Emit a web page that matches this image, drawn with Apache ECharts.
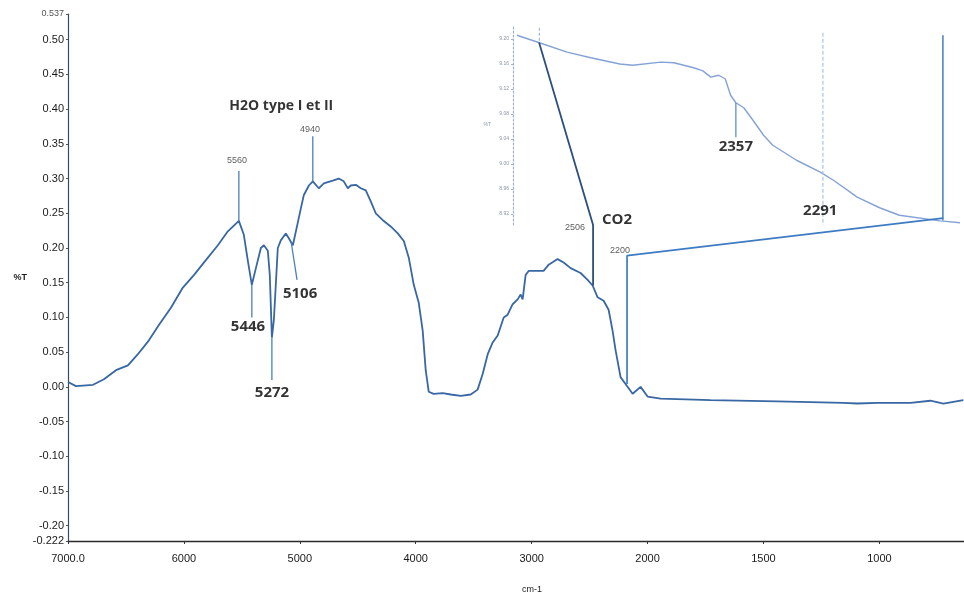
<!DOCTYPE html>
<html><head><meta charset="utf-8">
<script src="https://cdn.jsdelivr.net/npm/echarts@6/dist/echarts.min.js"></script>
<style>html,body{margin:0;padding:0;background:#fff}#c{width:964px;height:599px}</style>
</head><body><div id="c"></div>
<script>
// ---- main spectrum (wavenumber cm-1, %T) ----
const wavenumbers = [7000,6931,6784,6690,6586,6483,6397,6302,6216,6112,
  6009,5914,5828,5707,5621,5526,5483,5448,5414,5379,
  5336,5310,5276,5259,5241,5224,5190,5164,5121,5095,
  5060,5034,4991,4966,4922,4888,4836,4793,4716,4664,
  4621,4586,4560,4517,4474,4431,4388,4345,4284,4216,
  4155,4103,4060,4017,3974,3940,3914,3888,3845,3767,
  3698,3612,3526,3466,3422,3379,3336,3293,3241,3207,
  3164,3121,3095,3078,3052,3026,2948,2897,2853,2776,
  2724,2664,2578,2517,2474,2431,2379,2336,2302,2276,
  2233,2190,2129,2060,2000,1944,1728,1440,1155,1095,
  1009,866,780,724,638];
const transmittance = [0.007,0.001,0.003,0.011,0.024,0.031,0.047,0.067,0.089,0.114,
  0.143,0.161,0.179,0.204,0.224,0.239,0.219,0.181,0.147,0.171,
  0.200,0.204,0.196,0.161,0.071,0.096,0.200,0.211,0.221,0.214,
  0.204,0.224,0.257,0.276,0.290,0.296,0.286,0.293,0.297,0.300,
  0.296,0.286,0.290,0.291,0.286,0.283,0.267,0.250,0.240,0.231,
  0.221,0.210,0.186,0.147,0.121,0.081,0.024,-0.007,-0.010,-0.009,
  -0.011,-0.013,-0.011,-0.004,0.019,0.047,0.064,0.074,0.100,0.104,
  0.119,0.126,0.133,0.126,0.161,0.167,0.167,0.167,0.176,0.184,
  0.179,0.171,0.164,0.154,0.146,0.129,0.124,0.111,0.081,0.053,
  0.014,0.004,-0.010,0.000,-0.014,-0.017,-0.019,-0.021,-0.023,-0.024,
  -0.023,-0.023,-0.020,-0.024,-0.019];

// ---- axis ticks ----
const xTickWavenumbers = [7000,6000,5000,4000,3000,2000,1500,1000];
const xTickLabels = ['7000.0','6000','5000','4000','3000','2000','1500','1000'];
const xEndWavenumber = 635;
const yTickValues = [-0.222,-0.20,-0.15,-0.10,-0.05,0.00,0.05,0.10,0.15,0.20,0.25,0.30,0.35,0.40,0.45,0.50,0.537];
const yTickLabels = ['-0.222','-0.20','-0.15','-0.10','-0.05','0.00','0.05','0.10','0.15','0.20','0.25','0.30','0.35','0.40','0.45','0.50','0.537'];

// ---- peak marker lines (main plot) ----
const markerW = [[5526,5526],[4888,4888],[5414,5414],[5241,5241],[5075,5024]];
const markerV = [[0.239,0.311],[0.296,0.361],[0.147,0.100],[0.071,0.010],[0.209,0.154]];
const co2LinkW = [2470,2470,2936];
const co2LinkV = [0.146,0.233,0.496];
const link2200W = [2177,2177,725];
const link2200V = [0.004,0.189,0.243];

// ---- main text annotations ----
const mainLabelTexts = ['H2O type I et II','5560','4940','5446','5272','5106','CO2','2506','2200'];
const mainLabelW = [5160,5542,4912,5447,5240,4998,2263,2626,2237];
const mainLabelV = [0.405,0.326,0.371,0.086,-0.009,0.134,0.240,0.229,0.196];

// ---- inset (zoom of CO2 region) ----
const insetWavenumbers = [2523,2506,2485,2467,2445,2435,2414,2404,2389,2382,2376,2370,2365,2361,2357,2351,2344,2336,2329,2311,2293,2283,2265,2248,2233,2202,2187];
const insetValues = [9.206,9.194,9.179,9.170,9.160,9.158,9.163,9.162,9.154,9.149,9.139,9.142,9.136,9.110,9.098,9.090,9.070,9.046,9.030,9.006,8.987,8.974,8.947,8.930,8.918,8.909,8.906];
const insetTickValues = [9.20,9.16,9.12,9.08,9.04,9.00,8.96,8.92];
const insetTickLabels = ['9.20','9.16','9.12','9.08','9.04','9.00','8.96','8.92'];
const insetMarkerW = [[2506,2506],[2291,2291],[2200,2200],[2357,2357]];
const insetMarkerV = [[9.218,9.194],[9.210,8.902],[9.206,8.910],[9.098,9.043]];
const insetLabelTexts = ['2357','2291'];
const insetLabelW = [2357,2293];
const insetLabelV = [9.027,8.925];

// piecewise FTIR scale: 1000 cm-1 per unit above 2000, 500 cm-1 per unit below
function toPos(w){ return w >= 2000 ? (7000 - w) / 1000 : 5 + (2000 - w) / 500; }
function pairs(ws, vs, f){ return ws.map((w,i)=>[f ? f(w) : w, vs[i]]); }

const chart = echarts.init(document.getElementById('c'));
const axisFont = 'Liberation Sans, Arial, sans-serif';
const xTickPos = xTickWavenumbers.map(toPos);

const series = [];
series.push({
  type:'line', xAxisIndex:0, yAxisIndex:0, data:pairs(wavenumbers, transmittance, toPos),
  showSymbol:false, symbol:'none', lineStyle:{color:'#3867a3', width:1.8}, z:3, silent:true
});
markerW.forEach((ws,i)=>series.push({
  type:'line', xAxisIndex:0, yAxisIndex:0, data:pairs(ws, markerV[i], toPos),
  symbol:'none', lineStyle:{color:'#4a7fbf', width:1.3}, z:4, silent:true
}));
series.push({type:'line', xAxisIndex:0, yAxisIndex:0, data:pairs(co2LinkW, co2LinkV, toPos),
  symbol:'none', lineStyle:{color:'#2c4f7c', width:1.8}, z:5, silent:true});
series.push({type:'line', xAxisIndex:0, yAxisIndex:0, data:pairs(link2200W, link2200V, toPos),
  symbol:'none', lineStyle:{color:'#3d7bc2', width:1.7}, z:5, silent:true});

const bigLabel = {fontFamily:'Open Sans, sans-serif', fontWeight:'bold', fontSize:15, color:'#000', textBorderWidth:0};
const smallLabel = {fontFamily:'Liberation Sans, Arial, sans-serif', fontSize:9, color:'#333', textBorderWidth:0};
const smallSet = ['5560','4940','2506','2200'];
series.push({
  type:'scatter', xAxisIndex:0, yAxisIndex:0, symbolSize:0, clip:false, silent:true, z:6,
  data: mainLabelTexts.map((t,i)=>({
    value:[toPos(mainLabelW[i]), mainLabelV[i]], name:t,
    label:Object.assign({show:true, position:'inside', formatter:t},
      smallSet.includes(t) ? smallLabel : (t==='H2O type I et II' ? Object.assign({}, bigLabel, {fontSize:14}) : bigLabel))
  }))
});

// inset
series.push({
  type:'line', xAxisIndex:1, yAxisIndex:1, data:pairs(insetWavenumbers, insetValues),
  symbol:'none', lineStyle:{color:'#84a2d6', width:1.4}, z:3, silent:true
});
const insetStyles = [
  {color:'#9dbbe0', width:1.2, type:[3,2]},
  {color:'#a9c5e4', width:1.2, type:[4,2]},
  {color:'#4f86c6', width:1.6, type:'solid'},
  {color:'#5b8fd0', width:1.3, type:'solid'}
];
insetMarkerW.forEach((ws,i)=>series.push({
  type:'line', xAxisIndex:1, yAxisIndex:1, data:pairs(ws, insetMarkerV[i]),
  symbol:'none', lineStyle:insetStyles[i], z:4, silent:true, clip:false
}));
series.push({
  type:'scatter', xAxisIndex:1, yAxisIndex:1, symbolSize:0, clip:false, silent:true, z:6,
  data: insetLabelTexts.map((t,i)=>({
    value:[insetLabelW[i], insetLabelV[i]], name:t,
    label:Object.assign({show:true, position:'inside', formatter:t}, bigLabel)
  }))
});

chart.setOption({
  backgroundColor:'#fff',
  animation:false,
  grid:[
    {left:68, right:0, top:14, bottom:54},
    {left:513, right:0, top:25, height:200}
  ],
  xAxis:[
    {type:'value', gridIndex:0, min:0, max:toPos(xEndWavenumber),
     name:'cm-1', nameLocation:'middle', nameGap:44,
     nameTextStyle:{fontFamily:axisFont, fontSize:9, color:'#222', padding:[0,0,0,32]},
     axisLine:{show:true, onZero:false, lineStyle:{color:'#2a2a2a', width:1.4}},
     axisTick:{show:true, length:3, customValues:xTickPos, lineStyle:{color:'#333'}},
     axisLabel:{customValues:xTickPos, margin:12, fontFamily:axisFont, fontSize:11, color:'#1a1a1a',
       formatter:(v)=>{const i = xTickPos.findIndex(p=>Math.abs(p-v)<1e-6); return i>=0 ? xTickLabels[i] : '';}},
     splitLine:{show:false}},
    {type:'value', gridIndex:1, min:2184, max:2526, inverse:true, show:false}
  ],
  yAxis:[
    {type:'value', gridIndex:0, min:-0.222, max:0.537,
     name:'%T', nameLocation:'middle', nameRotate:0, nameGap:36,
     nameTextStyle:{fontFamily:axisFont, fontSize:9, fontWeight:'bold', color:'#222', padding:[31,0,0,0]},
     axisLine:{show:true, onZero:false, lineStyle:{color:'#3a4a66', width:1.2}},
     axisTick:{show:true, length:2, customValues:yTickValues, lineStyle:{color:'#555'}},
     axisLabel:{customValues:yTickValues, margin:4, fontFamily:axisFont, fontSize:11, color:'#1a1a1a',
       formatter:(v)=>{const i = yTickValues.findIndex(t=>Math.abs(t-v)<1e-6); if(i<0) return ''; return i===yTickValues.length-1 ? '{s|'+yTickLabels[i]+'}' : yTickLabels[i];},
       rich:{s:{fontSize:9, color:'#555', fontFamily:axisFont}}},
     splitLine:{show:false}},
    {type:'value', gridIndex:1, min:8.9024, max:9.2224,
     name:'%T', nameLocation:'middle', nameRotate:0, nameGap:22,
     nameTextStyle:{fontSize:5, color:'#8a93a6', padding:[30,0,0,0]},
     axisLine:{show:true, lineStyle:{color:'#9fb2cc', width:1.2, type:[2,2]}},
     axisTick:{show:true, length:2, customValues:insetTickValues, lineStyle:{color:'#9fb2cc'}},
     axisLabel:{customValues:insetTickValues, margin:4, fontSize:5, color:'#8a93a6',
       formatter:(v)=>{const i = insetTickValues.findIndex(t=>Math.abs(t-v)<1e-6); return i>=0 ? insetTickLabels[i] : '';}},
     splitLine:{show:false}}
  ],
  series: series
});
</script>
</body></html>
